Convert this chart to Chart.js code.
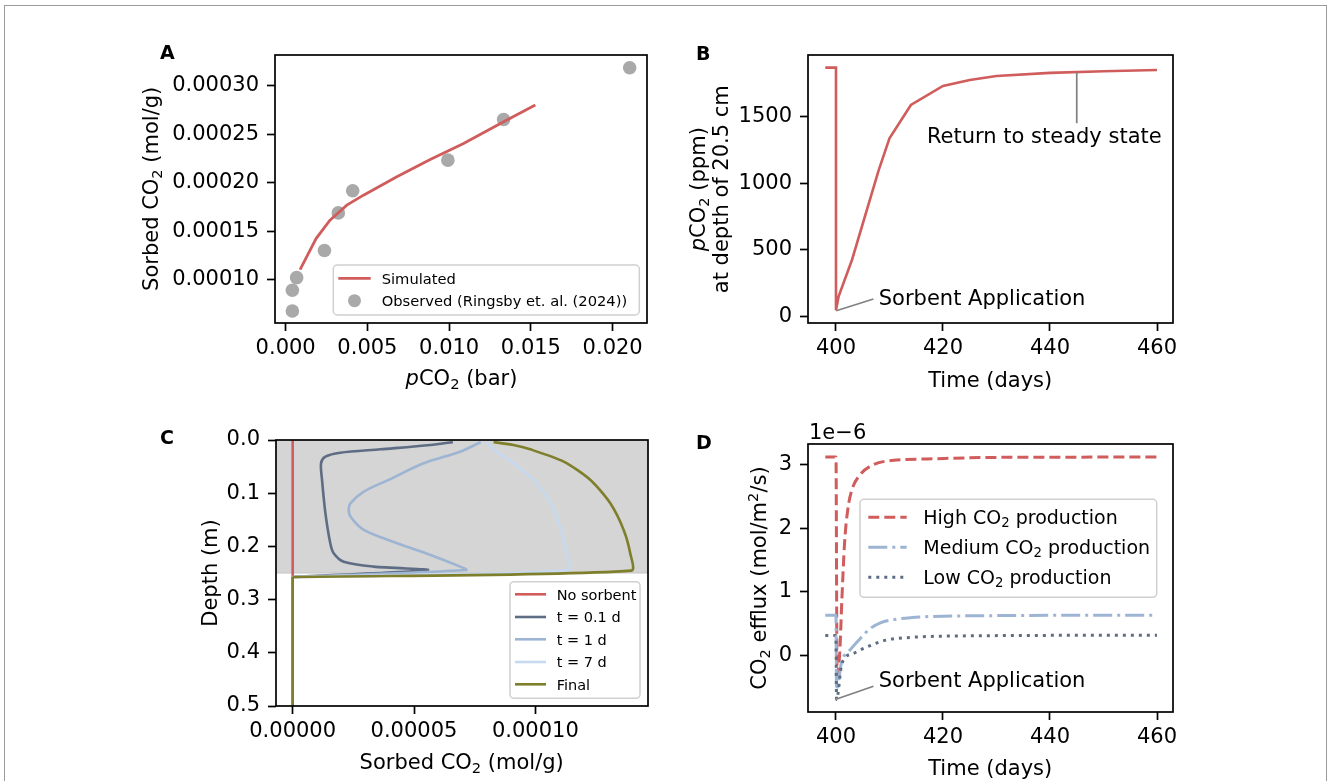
<!DOCTYPE html>
<html><head><meta charset="utf-8">
<script src="https://cdn.jsdelivr.net/npm/chart.js@4/dist/chart.umd.min.js"></script>
<style>
html,body{margin:0;padding:0;background:#fff;}
#wrap{position:relative;width:1328px;height:781px;overflow:hidden;background:#fff;}
#frame{position:absolute;left:4px;top:5px;width:1323px;height:820px;border:1.5px solid #9a9a9a;box-sizing:border-box;}
canvas{position:absolute;left:0;top:0;}
</style></head><body>
<div id="wrap"><div id="frame"></div>
<canvas id="cA" width="1328" height="781"></canvas>
<canvas id="cB" width="1328" height="781"></canvas>
<canvas id="cC" width="1328" height="781"></canvas>
<canvas id="cD" width="1328" height="781"></canvas>
</div>
<script>
// ---------- Panel A: sorption isotherm ----------
const aObsPco2   = [0.00041, 0.00041, 0.00067, 0.00237, 0.00322, 0.00410, 0.00992, 0.01333, 0.02104];
const aObsSorbed = [0.0000676, 0.0000890, 0.0001020, 0.0001300, 0.0001688, 0.0001916, 0.0002232, 0.0002652, 0.0003186];
const aSimPco2   = [0.00088, 0.00186, 0.00271, 0.00374, 0.00476, 0.00680, 0.00884, 0.01088, 0.01333, 0.01527];
const aSimSorbed = [0.0001103, 0.0001423, 0.0001613, 0.0001768, 0.0001871, 0.0002060, 0.0002239, 0.0002404, 0.0002628, 0.0002800];
const aXTicks = [0, 0.005, 0.010, 0.015, 0.020];
const aYTicks = [0.00010, 0.00015, 0.00020, 0.00025, 0.00030];

// ---------- Panel B: pCO2 at 20.5 cm ----------
const bDays = [398, 400, 400, 400.5, 403, 408, 410, 414, 420, 425, 430, 440, 450, 460];
const bPco2 = [1868, 1868, 45, 150, 425, 1100, 1337, 1587, 1730, 1775, 1805, 1828, 1840, 1850];
const bXTicks = [400, 420, 440, 460];
const bYTicks = [0, 500, 1000, 1500];

// ---------- Panel C: sorbed CO2 profiles (null = break in the line) ----------
const cNoSorbDepth = [0, 0.5];
const cNoSorbVal   = [0, 0];
const cT01Depth = [0.004, 0.0094, 0.0175, 0.0239, 0.0314, 0.0438, 0.075, 0.1378, 0.194, 0.213, 0.2288, 0.238, 0.2444, 0.2575];
const cT01Val   = [6.6e-5, 5.68e-5, 3.62e-5, 1.96e-5, 1.35e-5, 1.17e-5, 1.21e-5, 1.35e-5, 1.55e-5, 1.69e-5, 2.1e-5, 3.34e-5, 5.55e-5, 0];
const cT1Depth = [0.004, 0.022, 0.0438, 0.075, 0.097, 0.119, 0.13, 0.144, 0.169, 0.194, 0.216, 0.238, 0.2444, 0.2575];
const cT1Val   = [7.75e-5, 6.9e-5, 5.4e-5, 3.95e-5, 2.93e-5, 2.38e-5, 2.31e-5, 2.38e-5, 2.93e-5, 4.3e-5, 5.68e-5, 6.9e-5, 7.15e-5, 0];
const cT7Depth = [0.004, 0.025, 0.0439, 0.0815, 0.1253, 0.1754, 0.2193, 0.2444, 0.2575];
const cT7Val   = [7.94e-5, 8.5e-5, 9.11e-5, 1.0069e-4, 1.0687e-4, 1.1099e-4, 1.1305e-4, 1.1374e-4, 0];
const cFinalDepth = [0.004, 0.0094, 0.0175, 0.0407, 0.0752, 0.119, 0.169, 0.213, 0.2456, 0.2575, null, 0.2575, 0.5];
const cFinalVal   = [8.28e-5, 9.1e-5, 9.79e-5, 1.117e-4, 1.227e-4, 1.309e-4, 1.364e-4, 1.391e-4, 1.396e-4, 0, null, 0, 0];
const cXTicks = [0, 0.00005, 0.00010];
const cYTicks = [0, 0.1, 0.2, 0.3, 0.4, 0.5];
const cSorbentLayer = [0, 0.25];

// ---------- Panel D: CO2 efflux (units of 1e-6 mol/m2/s) ----------
const dHighDays = [398, 400, 400.2, 400.7, 401.1, 401.6, 402.2, 403, 404.5, 407, 410.8, 417, 429.5, 460];
const dHigh     = [3.12, 3.12, -0.30, 0.03, 0.87, 1.76, 2.29, 2.61, 2.84, 3.00, 3.07, 3.09, 3.115, 3.12];
const dMedDays  = [398, 400, 400.1, 401.1, 402.1, 404.5, 406.4, 408.3, 410.8, 413.9, 420.1, 460];
const dMed      = [0.63, 0.63, -0.55, -0.08, 0.03, 0.26, 0.42, 0.51, 0.56, 0.59, 0.615, 0.63];
const dLowDays  = [398, 400, 400.1, 401.1, 403.3, 405.8, 409.5, 413.9, 420.1, 460];
const dLow      = [0.31, 0.31, -0.70, -0.13, 0.03, 0.13, 0.24, 0.28, 0.30, 0.315];
const dXTicks = [400, 420, 440, 460];
const dYTicks = [0, 1, 2, 3];
const dOffsetText = '1e\u22126';

// ---------- helpers ----------
const FAM = '"DejaVu Sans", "Liberation Sans", sans-serif';
const W = 1328, H = 781, YAXW = 140, XAXH = 60;
const zip = (xs, ys) => xs.map((v, i) => ({x: v, y: ys[i]}));

function parseRich(s) {
  const segs = []; let italic = false;
  for (const ch of s) {
    if (ch === '*') { italic = !italic; continue; }
    let pos = 'base', t = ch;
    if (ch === '\u2082') { pos = 'sub'; t = '2'; }
    else if (ch === '\u00B2') { pos = 'sup'; t = '2'; }
    const last = segs[segs.length - 1];
    if (last && last.pos === pos && last.italic === italic) last.t += t;
    else segs.push({t, pos, italic});
  }
  return segs;
}
function drawRich(ctx, s, x, y, o) {
  const fs = o.size, wt = o.weight || 400;
  const segs = parseRich(s);
  const fontOf = sg => `${sg.italic ? 'italic ' : ''}${wt} ${sg.pos === 'base' ? fs : fs * 0.7}px ${FAM}`;
  let w = 0;
  for (const sg of segs) { ctx.font = fontOf(sg); sg.w = ctx.measureText(sg.t).width; w += sg.w; }
  ctx.save();
  ctx.translate(x, y);
  if (o.rotate) ctx.rotate(o.rotate);
  let cx = o.align === 'center' ? -w / 2 : (o.align === 'right' ? -w : 0);
  ctx.fillStyle = o.color || '#000';
  ctx.textBaseline = 'alphabetic'; ctx.textAlign = 'left';
  for (const sg of segs) {
    ctx.font = fontOf(sg);
    const dy = sg.pos === 'sub' ? 0.17 * fs : (sg.pos === 'sup' ? -0.40 * fs : 0);
    ctx.fillText(sg.t, cx, dy);
    cx += sg.w;
  }
  ctx.restore();
}

const decoPlugin = {
  id: 'deco',
  beforeDatasetsDraw(chart, args, o) {
    if (!o.shade) return;
    const {ctx, chartArea: a, scales: {y}} = chart;
    const y0 = y.getPixelForValue(o.shade.range[0]), y1 = y.getPixelForValue(o.shade.range[1]);
    ctx.save();
    ctx.fillStyle = o.shade.color;
    ctx.fillRect(a.left, Math.min(y0, y1), a.right - a.left, Math.abs(y1 - y0));
    ctx.strokeStyle = o.shade.edge; ctx.lineWidth = 1;
    ctx.beginPath(); ctx.moveTo(a.left, Math.max(y0, y1)); ctx.lineTo(a.right, Math.max(y0, y1)); ctx.stroke();
    ctx.restore();
  },
  afterDatasetsDraw(chart, args, o) {
    const {ctx, chartArea: a, scales: {x, y}} = chart;
    ctx.save();
    for (const an of (o.annots || [])) {
      ctx.strokeStyle = '#808080'; ctx.lineWidth = 1.7; ctx.setLineDash([]);
      ctx.beginPath();
      ctx.moveTo(x.getPixelForValue(an.from[0]), y.getPixelForValue(an.from[1]));
      ctx.lineTo(x.getPixelForValue(an.to[0]), y.getPixelForValue(an.to[1]));
      ctx.stroke();
      drawRich(ctx, an.text, x.getPixelForValue(an.at[0]), y.getPixelForValue(an.at[1]), {size: 21, align: 'left'});
    }
    ctx.strokeStyle = '#000'; ctx.lineWidth = 1.7; ctx.setLineDash([]);
    ctx.strokeRect(a.left, a.top, a.right - a.left, a.bottom - a.top);
    const L = o.legend;
    if (L) {
      const [x1, y1, x2, y2] = L.box;
      ctx.beginPath(); ctx.roundRect(x1, y1, x2 - x1, y2 - y1, 4);
      ctx.fillStyle = 'rgba(255,255,255,0.8)'; ctx.fill();
      ctx.strokeStyle = '#d0d0d0'; ctx.lineWidth = 1.5; ctx.stroke();
      chart.data.datasets.forEach((ds, i) => {
        const ry = L.rows[i];
        if (ds.showLine === false) {
          ctx.beginPath(); ctx.arc((L.sw[0] + L.sw[1]) / 2, ry, L.marker, 0, 2 * Math.PI);
          ctx.fillStyle = ds.backgroundColor; ctx.fill();
        } else {
          ctx.beginPath(); ctx.setLineDash(ds.borderDash || []);
          ctx.moveTo(L.sw[0], ry); ctx.lineTo(L.sw[1], ry);
          ctx.strokeStyle = ds.borderColor; ctx.lineWidth = ds.borderWidth; ctx.lineCap = 'butt'; ctx.stroke();
          ctx.setLineDash([]);
        }
        drawRich(ctx, ds.label, L.textX, ry + 0.365 * L.size, {size: L.size});
      });
    }
    for (const t of (o.titles || [])) {
      drawRich(ctx, t.t, t.x, t.y, {size: t.size || 21, rotate: t.rotate ? -Math.PI / 2 : 0, align: t.align || 'center', weight: t.weight});
    }
    ctx.restore();
  }
};

function axis(min, max, ticks, fmt, isY, reverse) {
  return {
    type: 'linear', min, max, reverse: !!reverse,
    afterBuildTicks: s => { s.ticks = ticks.map(v => ({value: v})); },
    afterFit: s => { if (isY) s.width = YAXW; else s.height = XAXH; },
    ticks: {callback: fmt, font: {family: 'DejaVu Sans', size: 21}, color: '#000',
            padding: isY ? 8 : 5, autoSkip: false, maxRotation: 0, minRotation: 0},
    grid: {display: true, drawOnChartArea: false, drawTicks: true, tickLength: 8,
           tickWidth: 1.7, tickColor: '#000', color: '#000'},
    border: {display: false},
    title: {display: false}
  };
}
function makeChart(id, area, datasets, scales, deco) {
  const [L, T, R, B] = area;
  return new Chart(document.getElementById(id), {
    type: 'scatter',
    data: {datasets},
    options: {
      responsive: false, animation: false, devicePixelRatio: 1, events: [],
      layout: {padding: {left: L - YAXW, top: T, right: W - R, bottom: H - B - XAXH}},
      scales,
      plugins: {legend: {display: false}, tooltip: {enabled: false}, deco}
    },
    plugins: [decoPlugin]
  });
}
const line = (label, data, color, width, extra) => Object.assign({
  label, data, showLine: true, borderColor: color, backgroundColor: color,
  borderWidth: width, pointRadius: 0, tension: 0, borderCapStyle: 'butt', spanGaps: false
}, extra || {});

const RED = '#d05c5c', SLATE = '#5e6c84', STEEL = '#9db4d3', PALE = '#c6d9ee', OLIVE = '#7e7e2b', GREY = '#a9a9a9';

// ---- A ----
makeChart('cA', [275, 55, 647, 323], [
  line('Simulated', zip(aSimPco2, aSimSorbed), RED, 2.8),
  {label: 'Observed (Ringsby et. al. (2024))', data: zip(aObsPco2, aObsSorbed), showLine: false,
   backgroundColor: GREY, borderColor: GREY, pointRadius: 6.8, pointBorderWidth: 0}
], {
  x: axis(-0.000653, 0.0221, aXTicks, v => v.toFixed(3), false),
  y: axis(0.0000552, 0.0003317, aYTicks, v => v.toFixed(5), true)
}, {
  legend: {box: [333.3, 265, 639.3, 315], rows: [278.3, 300.7], sw: [338.3, 370.7], textX: 381.7, size: 14.7, marker: 6.5},
  titles: [
    {t: 'Sorbed CO\u2082 (mol/g)', x: 158.3, y: 188.8, rotate: true},
    {t: '*p*CO\u2082 (bar)', x: 461.5, y: 385},
    {t: 'A', x: 160, y: 58.5, size: 19, weight: 700, align: 'left'}
  ]
});

// ---- B ----
makeChart('cB', [808, 55, 1173, 323], [
  line('pCO2', zip(bDays, bPco2), RED, 2.6)
], {
  x: axis(394.77, 462.99, bXTicks, v => String(v), false),
  y: axis(-50, 1962.5, bYTicks, v => String(v), true)
}, {
  annots: [
    {from: [445, 1832], to: [445, 1450], text: 'Return to steady state', at: [417, 1300]},
    {from: [400.06, 42], to: [407, 130], text: 'Sorbent Application', at: [408, 87]}
  ],
  titles: [
    {t: '*p*CO\u2082 (ppm)', x: 705, y: 189.2, rotate: true},
    {t: 'at depth of 20.5 cm', x: 728.3, y: 189.2, rotate: true},
    {t: 'Time (days)', x: 990.2, y: 386.7},
    {t: 'B', x: 696, y: 59.5, size: 19, weight: 700, align: 'left'}
  ]
});

// ---- C ----
makeChart('cC', [276, 440, 648, 706], [
  line('No sorbent', zip(cNoSorbVal, cNoSorbDepth), RED, 2.6, {order: 4}),
  line('t = 0.1 d', zip(cT01Val, cT01Depth), SLATE, 2.6, {order: 3, tension: 0.3}),
  line('t = 1 d', zip(cT1Val, cT1Depth), STEEL, 2.6, {order: 2, tension: 0.3}),
  line('t = 7 d', zip(cT7Val, cT7Depth), PALE, 2.6, {order: 1, tension: 0.3}),
  line('Final', zip(cFinalVal, cFinalDepth), OLIVE, 2.6, {order: 0, tension: 0.25})
], {
  x: axis(-6.87e-6, 1.4643e-4, cXTicks, v => v.toFixed(5), false),
  y: axis(0, 0.5, cYTicks, v => v.toFixed(1), true, true)
}, {
  shade: {range: cSorbentLayer, color: '#d4d5d4', edge: '#c4c4c4'},
  legend: {box: [510, 581.7, 640, 698.3], rows: [594.3, 617, 639.3, 662, 684.3], sw: [515, 546], textX: 556.7, size: 14.5},
  titles: [
    {t: 'Depth (m)', x: 217.3, y: 573, rotate: true},
    {t: 'Sorbed CO\u2082 (mol/g)', x: 461.7, y: 769.4},
    {t: 'C', x: 160, y: 443.5, size: 19, weight: 700, align: 'left'}
  ]
});

// ---- D ----
makeChart('cD', [808, 444, 1173, 712], [
  line('High CO\u2082 production', zip(dHighDays, dHigh), RED, 3, {borderDash: [11, 5], order: 2, cubicInterpolationMode: 'monotone'}),
  line('Medium CO\u2082 production', zip(dMedDays, dMed), STEEL, 3, {borderDash: [19, 5, 3, 5], order: 1, cubicInterpolationMode: 'monotone'}),
  line('Low CO\u2082 production', zip(dLowDays, dLow), SLATE, 3, {borderDash: [3, 5], order: 0, cubicInterpolationMode: 'monotone'})
], {
  x: axis(394.77, 462.99, dXTicks, v => String(v), false),
  y: axis(-0.895, 3.326, dYTicks, v => String(Math.round(v)), true)
}, {
  annots: [
    {from: [400, -0.695], to: [407, -0.49], text: 'Sorbent Application', at: [408, -0.5]}
  ],
  legend: {box: [860, 499.3, 1156.7, 597.3], rows: [517.3, 547.3, 577.3], sw: [868.3, 906.7], textX: 923.3, size: 19},
  titles: [
    {t: 'CO\u2082 efflux (mol/m\u00B2/s)', x: 766, y: 578, rotate: true},
    {t: 'Time (days)', x: 990.2, y: 775},
    {t: dOffsetText, x: 809, y: 439.3, align: 'left'},
    {t: 'D', x: 696, y: 448.5, size: 19, weight: 700, align: 'left'}
  ]
});
</script>
</body></html>
